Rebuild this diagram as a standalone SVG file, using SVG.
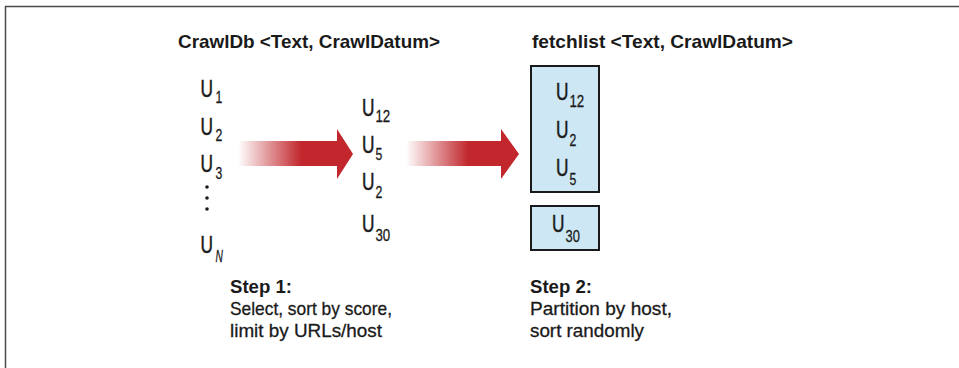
<svg xmlns="http://www.w3.org/2000/svg" width="959" height="368" viewBox="0 0 959 368">
<style>
text{font-family:"Liberation Sans",Arial,sans-serif;fill:#1a1a1a}
.title{font-size:19px;font-weight:bold}
.u{font-size:24px;stroke:#1a1a1a;stroke-width:0.5}
.sub{font-size:17px;stroke:#1a1a1a;stroke-width:0.3}
.it{font-style:italic}
.step{font-size:19px;stroke:#1a1a1a;stroke-width:0.3}
.stepb{font-size:19px;font-weight:bold}
.box{fill:#cde8f4;stroke:#1a1a1a;stroke-width:2}
.frame{fill:none;stroke:#4a4a4a;stroke-width:1.5}
.arrow{fill:url(#redfade)}
.dot{fill:#1a1a1a}
</style>
<defs>
<linearGradient id="redfade" x1="0" y1="0" x2="1" y2="0">
<stop offset="0" stop-color="#c1272d" stop-opacity="0"/>
<stop offset="0.55" stop-color="#c1272d" stop-opacity="1"/>
<stop offset="1" stop-color="#c1272d" stop-opacity="1"/>
</linearGradient>
</defs>
<path class="frame" d="M5.5,368 V6.5 H959"/>

<g id="title-crawldb">
<text class="title" x="178" y="48" textLength="262" lengthAdjust="spacingAndGlyphs">CrawlDb &lt;Text, CrawlDatum&gt;</text>
</g>
<g id="title-fetchlist">
<text class="title" x="532" y="48" textLength="261" lengthAdjust="spacingAndGlyphs">fetchlist &lt;Text, CrawlDatum&gt;</text>
</g>

<g id="crawldb-list">
<text class="u" transform="translate(200.5,97) scale(0.72,1)">U</text>
<text class="sub" transform="translate(215.5,103) scale(0.72,1)">1</text>
<text class="u" transform="translate(200.5,135) scale(0.72,1)">U</text>
<text class="sub" transform="translate(215.5,141) scale(0.72,1)">2</text>
<text class="u" transform="translate(200.5,172) scale(0.72,1)">U</text>
<text class="sub" transform="translate(215.5,179) scale(0.72,1)">3</text>
<circle class="dot" cx="207" cy="187" r="1.8"/>
<circle class="dot" cx="207" cy="198" r="1.8"/>
<circle class="dot" cx="207" cy="209" r="1.8"/>
<text class="u" transform="translate(200.5,253) scale(0.72,1)">U</text>
<text class="sub it" transform="translate(215.5,262) scale(0.6,1)">N</text>
</g>

<g id="sorted-list">
<text class="u" transform="translate(362,116) scale(0.72,1)">U</text>
<text class="sub" transform="translate(375.5,122) scale(0.78,1)">12</text>
<text class="u" transform="translate(362,153) scale(0.72,1)">U</text>
<text class="sub" transform="translate(375.5,160) scale(0.72,1)">5</text>
<text class="u" transform="translate(362,190) scale(0.72,1)">U</text>
<text class="sub" transform="translate(375.5,198) scale(0.72,1)">2</text>
<text class="u" transform="translate(362,232) scale(0.72,1)">U</text>
<text class="sub" transform="translate(375.5,241) scale(0.78,1)">30</text>
</g>

<g id="connectors">
<path class="arrow" d="M238,141 H337 V129 L353,154 L337,179 V166 H238 Z"/>
<path class="arrow" d="M406,141 H501 V129 L519,154 L501,179 V166 H406 Z"/>
</g>

<g id="fetchlist-partition-1">
<rect class="box" x="531" y="66" width="68" height="126"/>
<text class="u" transform="translate(556,100) scale(0.72,1)">U</text>
<text class="sub" transform="translate(569.5,107) scale(0.78,1)">12</text>
<text class="u" transform="translate(556,138) scale(0.72,1)">U</text>
<text class="sub" transform="translate(569.5,146) scale(0.72,1)">2</text>
<text class="u" transform="translate(556,176) scale(0.72,1)">U</text>
<text class="sub" transform="translate(569.5,185) scale(0.72,1)">5</text>
</g>
<g id="fetchlist-partition-2">
<rect class="box" x="531" y="206" width="68" height="44"/>
<text class="u" transform="translate(552,232) scale(0.72,1)">U</text>
<text class="sub" transform="translate(565.5,242) scale(0.76,1)">30</text>
</g>

<g id="step1">
<text class="stepb" x="230" y="293" textLength="62" lengthAdjust="spacingAndGlyphs">Step 1:</text>
<text class="step" x="230" y="315" textLength="162" lengthAdjust="spacingAndGlyphs">Select, sort by score,</text>
<text class="step" x="230" y="337" textLength="152" lengthAdjust="spacingAndGlyphs">limit by URLs/host</text>
</g>
<g id="step2">
<text class="stepb" x="530" y="293" textLength="62" lengthAdjust="spacingAndGlyphs">Step 2:</text>
<text class="step" x="530" y="315" textLength="142" lengthAdjust="spacingAndGlyphs">Partition by host,</text>
<text class="step" x="530" y="337" textLength="114" lengthAdjust="spacingAndGlyphs">sort randomly</text>
</g>
</svg>
